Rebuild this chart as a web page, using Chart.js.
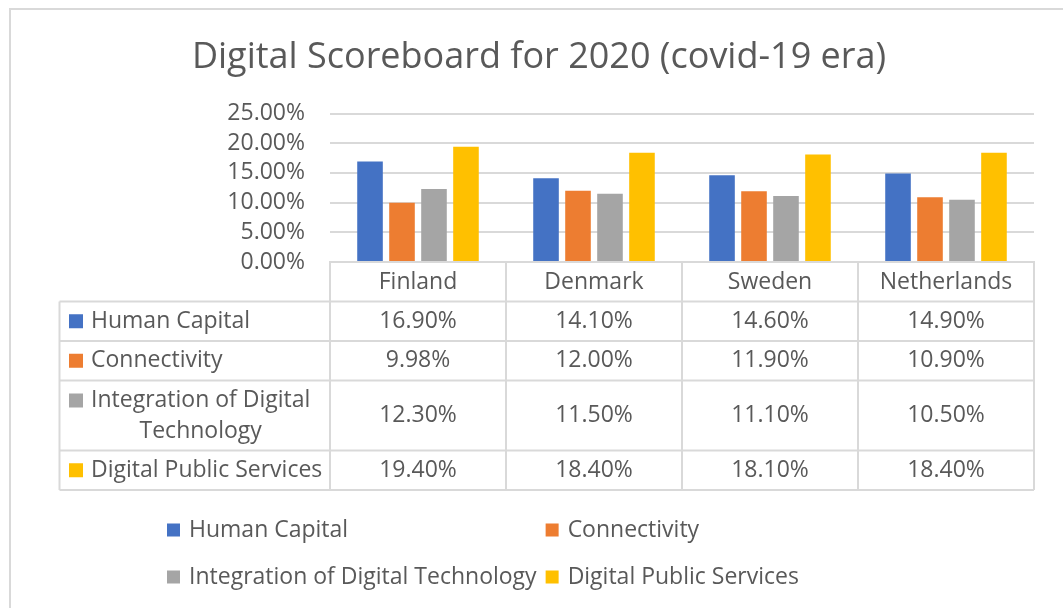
<!DOCTYPE html>
<html>
<head>
<meta charset="utf-8">
<title>Digital Scoreboard for 2020</title>
<script src="https://cdn.jsdelivr.net/npm/chart.js@4.4.0/dist/chart.umd.min.js"></script>
<style>
  html, body { margin: 0; padding: 0; background: #fff; }
</style>
</head>
<body>
<canvas id="scoreChart" width="1063" height="608"></canvas>
<script>
const countries = ['Finland', 'Denmark', 'Sweden', 'Netherlands'];
const seriesNames = ['Human Capital', 'Connectivity', 'Integration of Digital Technology', 'Digital Public Services'];
const humanCapital = [0.169, 0.141, 0.146, 0.149];
const connectivity = [0.0998, 0.120, 0.119, 0.109];
const integration = [0.123, 0.115, 0.111, 0.105];
const publicServices = [0.194, 0.184, 0.181, 0.184];
const seriesColors = ['#4472C4', '#ED7D31', '#A5A5A5', '#FFC000'];

const textColor = '#595959';
const lineColor = '#d9d9d9';
const fontFamily = "'Open Sans', sans-serif";
const bodySize = 23;

Chart.defaults.font.family = fontFamily;
Chart.defaults.color = textColor;

const pct = v => (v * 100).toFixed(2) + '%';

// wrap a label into lines that fit in maxWidth
function wrapText(ctx, text, maxWidth) {
  const words = text.split(' ');
  const lines = [];
  let line = '';
  words.forEach(w => {
    const test = line ? line + ' ' + w : w;
    if (ctx.measureText(test).width > maxWidth && line) {
      lines.push(line);
      line = w;
    } else {
      line = test;
    }
  });
  lines.push(line);
  return lines;
}

// data table under the plot + legend + outer frame
const tablePlugin = {
  id: 'dataTable',
  beforeDraw(chart) {
    const ctx = chart.ctx;
    ctx.save();
    ctx.fillStyle = '#fff';
    ctx.fillRect(0, 0, chart.width, chart.height);
    ctx.strokeStyle = lineColor;
    ctx.lineWidth = 2;
    ctx.beginPath();
    ctx.moveTo(10, chart.height);
    ctx.lineTo(10, 9);
    ctx.lineTo(chart.width, 9);
    ctx.stroke();
    ctx.restore();
  },
  afterDraw(chart) {
    const ctx = chart.ctx;
    const area = chart.chartArea;
    const x = chart.scales.x;
    const half = (x.getPixelForValue(1) - x.getPixelForValue(0)) / 2;
    const edges = countries.map((c, i) => x.getPixelForValue(i) - half);
    edges.push(area.right);
    const tableLeft = 59.5;
    const keyX = 69;
    const labelX = 91;
    const top = x.bottom;

    ctx.save();
    ctx.font = bodySize + 'px ' + fontFamily;
    ctx.textBaseline = 'middle';

    // rows
    let y = top;
    const rowLines = [top];
    chart.data.datasets.forEach((ds) => {
      const lines = wrapText(ctx, ds.label, area.left - labelX - 2);
      const h = 39.5 + (lines.length - 1) * 30.5;
      const firstY = lines.length > 1 ? y + 20 : y + h / 2;
      ctx.fillStyle = ds.backgroundColor;
      ctx.fillRect(keyX, firstY - 7, 14, 14);
      ctx.fillStyle = textColor;
      if (lines.length > 1) {
        const cx = labelX + ctx.measureText(lines[0]).width / 2;
        ctx.textAlign = 'center';
        lines.forEach((l, k) => ctx.fillText(l, cx, firstY + k * 30.5));
      } else {
        ctx.textAlign = 'left';
        ctx.fillText(lines[0], labelX, firstY);
      }
      ctx.textAlign = 'center';
      ds.data.forEach((v, i) => {
        ctx.fillText(pct(v), x.getPixelForValue(i), y + h / 2);
      });
      y += h;
      rowLines.push(y);
    });
    const bottom = y;

    // grid of the table
    ctx.strokeStyle = lineColor;
    ctx.lineWidth = 2;
    ctx.beginPath();
    rowLines.forEach(ry => {
      ctx.moveTo(tableLeft, ry);
      ctx.lineTo(area.right, ry);
    });
    ctx.moveTo(tableLeft, top);
    ctx.lineTo(tableLeft, bottom);
    edges.forEach(ex => {
      ctx.moveTo(ex, area.bottom);
      ctx.lineTo(ex, bottom);
    });
    ctx.stroke();

    // legend, two columns
    const items = chart.data.datasets;
    const col1 = 167;
    const col1Width = Math.max(ctx.measureText(items[0].label).width, ctx.measureText(items[2].label).width);
    const col2 = col1 + 22 + col1Width + 9;
    const rowsY = [530, 577];
    ctx.textAlign = 'left';
    items.forEach((ds, i) => {
      const lx = i % 2 === 0 ? col1 : col2;
      const ly = rowsY[Math.floor(i / 2)];
      ctx.fillStyle = ds.backgroundColor;
      ctx.fillRect(lx, ly - 6.5, 13, 13);
      ctx.fillStyle = textColor;
      ctx.fillText(ds.label, lx + 22, ly);
    });
    ctx.restore();
  }
};

const seriesData = [humanCapital, connectivity, integration, publicServices];

new Chart(document.getElementById('scoreChart'), {
  type: 'bar',
  data: {
    labels: countries,
    datasets: seriesNames.map((name, i) => ({
      label: name,
      data: seriesData[i],
      backgroundColor: seriesColors[i],
      categoryPercentage: 0.727,
      barPercentage: 0.8
    }))
  },
  options: {
    responsive: false,
    animation: false,
    layout: {
      padding: { left: 44, right: 29, top: 10, bottom: 306.5 }
    },
    plugins: {
      legend: { display: false },
      tooltip: { enabled: false },
      title: {
        display: true,
        text: 'Digital Scoreboard for 2020 (covid-19 era)',
        color: textColor,
        font: { size: 36, weight: 'normal' },
        padding: { top: 26.4, bottom: 33.9 }
      }
    },
    scales: {
      x: {
        grid: { display: false, drawTicks: false },
        border: { display: true, color: lineColor, width: 2 },
        ticks: { font: { size: bodySize }, color: textColor, padding: 7 },
        afterFit(scale) { scale.height = 39.5; }
      },
      y: {
        min: 0,
        max: 0.25,
        grid: { color: lineColor, lineWidth: 2, drawTicks: false },
        border: { display: false },
        ticks: {
          stepSize: 0.05,
          autoSkip: false,
          padding: 25,
          font: { size: bodySize },
          color: textColor,
          callback: v => pct(v)
        },
        afterFit(scale) { scale.width = 286; }
      }
    }
  },
  plugins: [tablePlugin]
});
</script>
</body>
</html>
